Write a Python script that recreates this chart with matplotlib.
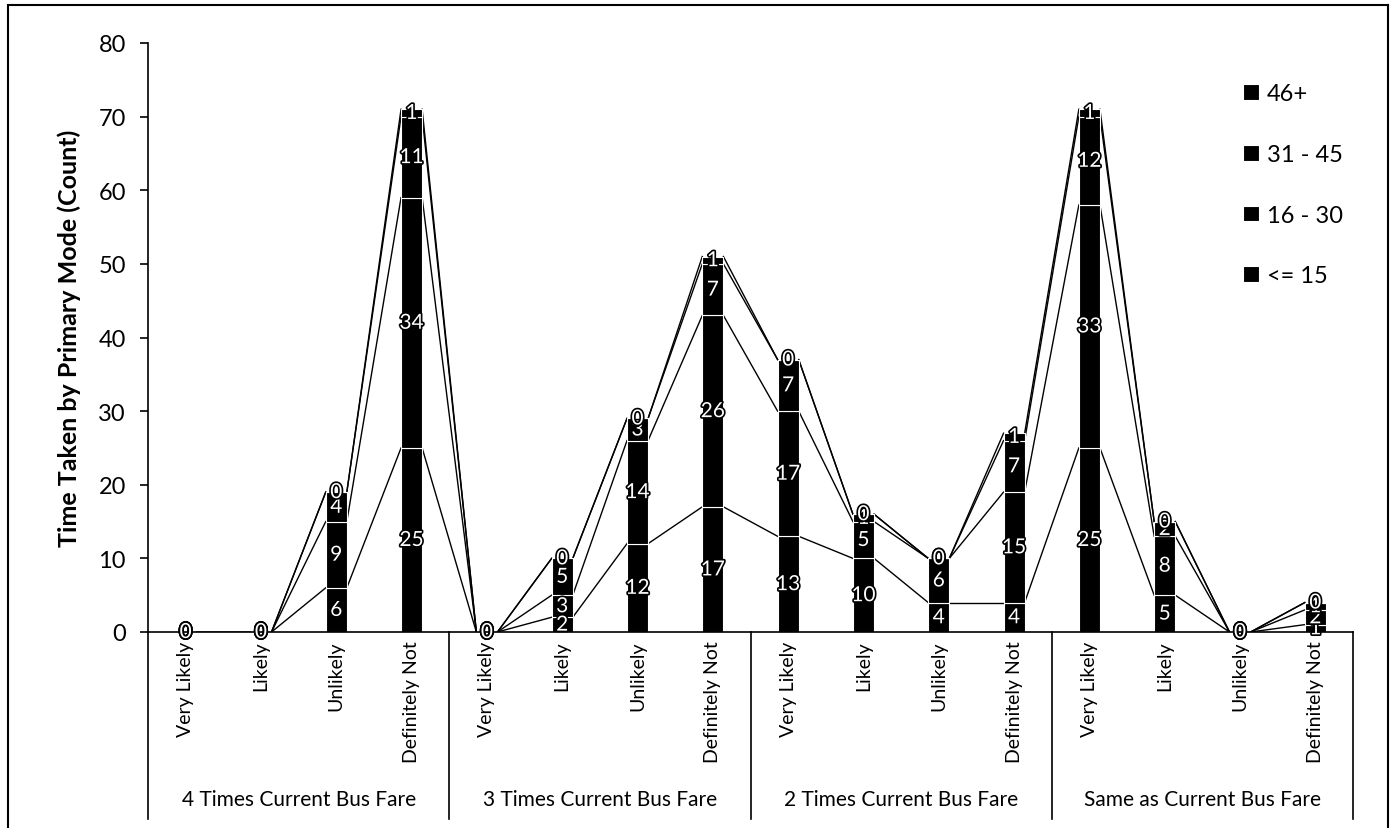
import matplotlib
matplotlib.use("Agg")
import matplotlib.pyplot as plt
import matplotlib.patheffects as pe
from matplotlib.lines import Line2D
import numpy as np

plt.rcParams['font.family'] = ['Lato', 'DejaVu Sans']

groups = ["4 Times Current Bus Fare", "3 Times Current Bus Fare",
          "2 Times Current Bus Fare", "Same as Current Bus Fare"]
responses = ["Very Likely", "Likely", "Unlikely", "Definitely Not"]

series_names = ["<= 15", "16 - 30", "31 - 45", "46+"]
le15 = [0, 0, 6, 25, 0, 2, 12, 17, 13, 10, 4, 4, 25, 5, 0, 1]
r16_30 = [0, 0, 9, 34, 0, 3, 14, 26, 17, 5, 6, 15, 33, 8, 0, 2]
r31_45 = [0, 0, 4, 11, 0, 5, 3, 7, 7, 1, 0, 7, 12, 2, 0, 1]
r46p = [0, 0, 0, 1, 0, 0, 0, 1, 0, 0, 0, 1, 1, 0, 0, 0]
series = [le15, r16_30, r31_45, r46p]

W, H = 1393, 829
fig = plt.figure(figsize=(W / 100, H / 100), dpi=100)
fig.patch.set_facecolor("white")

x0, x1, y0, y1 = 148, 1353, 633, 44
ax = fig.add_axes([x0 / W, (H - y0) / H, (x1 - x0) / W, (y0 - y1) / H])

n = len(groups) * len(responses)
x = np.arange(n)
bw = 0.28
bottom = np.zeros(n)
tops = []
handles = []
for name, vals in zip(series_names, series):
    vals = np.array(vals, dtype=float)
    b = ax.bar(x, vals, bw, bottom=bottom, color="black", edgecolor="white",
               linewidth=0.8, label=name, zorder=2)
    handles.append(b)
    centers = bottom + vals / 2
    for xi, c, v in zip(x, centers, vals):
        ax.text(xi, c, f"{int(v)}", ha="center", va="center", fontsize=15,
                color="white", zorder=5,
                path_effects=[pe.withStroke(linewidth=2.4, foreground="black")])
    bottom = bottom + vals
    tops.append(bottom.copy())

# series lines joining the top of each segment between neighbouring bars
for top in tops:
    for i in range(n - 1):
        ax.plot([x[i] + bw / 2, x[i + 1] - bw / 2], [top[i], top[i + 1]],
                color="black", linewidth=1.0, zorder=1)

ax.set_xlim(-0.5, n - 0.5)
ax.set_ylim(0, 80)
ax.set_yticks(range(0, 81, 10))
ax.tick_params(axis="y", labelsize=17, direction="out", length=6, width=1.2, pad=10)
ax.spines["top"].set_visible(False)
ax.spines["right"].set_visible(False)
ax.spines["left"].set_linewidth(1.2)
ax.spines["bottom"].set_linewidth(1.2)

ax.set_xticks(x)
ax.set_xticklabels(responses * len(groups), rotation=90, fontsize=14, va="top")
ax.tick_params(axis="x", length=0, pad=6)

ax.set_ylabel("Time Taken by Primary Mode (Count)", fontsize=18, fontweight="bold",
              labelpad=12)

# group labels and separators below the category axis
sep_bottom = -(820 - y0) / (y0 - y1)
trans = ax.get_xaxis_transform()
for g in range(len(groups) + 1):
    xs = g * 4 - 0.5
    ax.plot([xs, xs], [0, sep_bottom], transform=trans, color="black",
            linewidth=1.2, clip_on=False)
for g, name in enumerate(groups):
    ax.text(g * 4 + 1.5, -(800 - y0) / (y0 - y1), name, transform=trans,
            ha="center", va="center", fontsize=15)

leg = ax.legend(handles[::-1], series_names[::-1], loc="upper left",
                bbox_to_anchor=((1234 - x0) / (x1 - x0), 1 - (75 - y1) / (y0 - y1)),
                frameon=False, fontsize=17, handlelength=0.65, handleheight=0.65,
                handletextpad=0.35, labelspacing=1.68, borderaxespad=0)

# page frame
for xs, ys in [([8 / W, 8 / W], [0, 1 - 8 / H]),
               ([8 / W, 1388 / W], [1 - 6 / H, 1 - 6 / H]),
               ([1388 / W, 1388 / W], [0, 1 - 6 / H])]:
    fig.add_artist(Line2D(xs, ys, transform=fig.transFigure, color="black",
                          linewidth=1.5))

fig.savefig("out.png", dpi=100)
